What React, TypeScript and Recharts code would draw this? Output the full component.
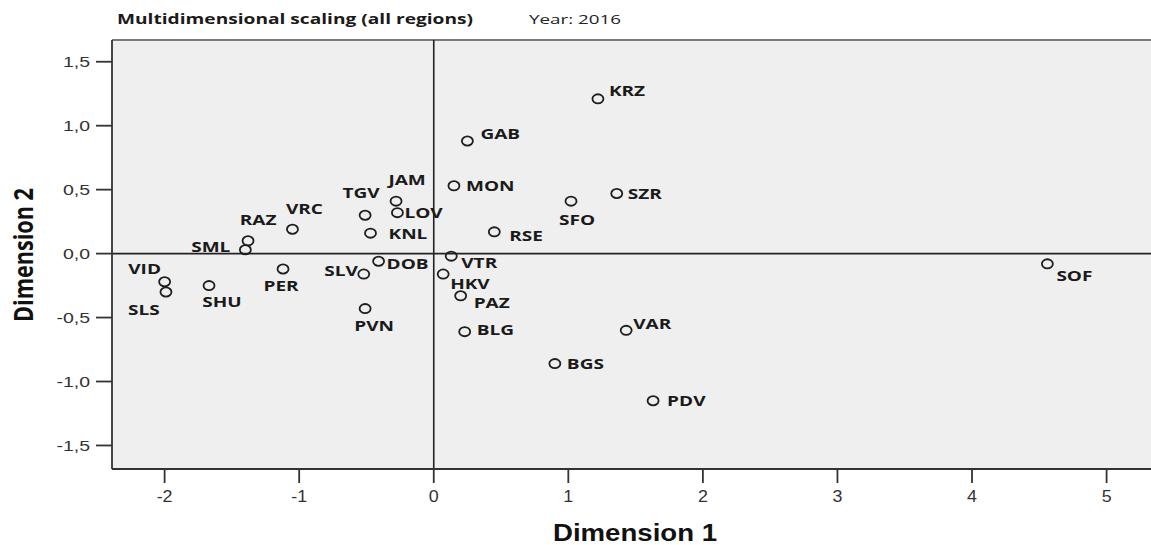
import {
  CartesianGrid,
  ReferenceLine,
  Scatter,
  ScatterChart,
  XAxis,
  YAxis,
} from "recharts";

const regions = [
  "KRZ", "GAB", "MON", "JAM", "LOV", "TGV", "KNL", "VRC", "RAZ", "SML",
  "VID", "SLS", "SHU", "PER", "SLV", "DOB", "PVN", "VTR", "HKV", "PAZ",
  "BLG", "VAR", "RSE", "SFO", "SZR", "BGS", "PDV", "SOF",
];
const dimension1 = [
  1.22, 0.25, 0.15, -0.28, -0.27, -0.51, -0.47, -1.05, -1.38, -1.4,
  -2.0, -1.99, -1.67, -1.12, -0.52, -0.41, -0.51, 0.13, 0.07, 0.2,
  0.23, 1.43, 0.45, 1.02, 1.36, 0.9, 1.63, 4.56,
];
const dimension2 = [
  1.21, 0.88, 0.53, 0.41, 0.32, 0.3, 0.16, 0.19, 0.1, 0.03,
  -0.22, -0.3, -0.25, -0.12, -0.16, -0.06, -0.43, -0.02, -0.16, -0.33,
  -0.61, -0.6, 0.17, 0.41, 0.47, -0.86, -1.15, -0.08,
];
const xTicks = [-2, -1, 0, 1, 2, 3, 4, 5];
const yTicks = [-1.5, -1, -0.5, 0, 0.5, 1, 1.5];

const X_DOMAIN: [number, number] = [-2.391, 5.33];
const Y_DOMAIN: [number, number] = [-1.684, 1.67];

// where each region's label sits relative to its marker
type Anchor = "start" | "middle" | "end";
const labelSpot: Record<string, [Anchor, number, number]> = {
  KRZ: ["start", 11, -9],
  GAB: ["start", 13, -8],
  MON: ["start", 12, -1],
  JAM: ["middle", 11, -22],
  LOV: ["start", 7, 0],
  TGV: ["middle", -4, -23],
  KNL: ["start", 18, 0],
  VRC: ["middle", 12, -21],
  RAZ: ["middle", 10, -22],
  SML: ["end", -15, -3],
  VID: ["middle", -20, -13],
  SLS: ["middle", -22, 17],
  SHU: ["middle", 13, 16],
  PER: ["middle", -2, 16],
  SLV: ["end", -6, -4],
  DOB: ["start", 8, 2],
  PVN: ["middle", 9, 17],
  VTR: ["start", 10, 6],
  HKV: ["start", 7, 9],
  PAZ: ["start", 13, 6],
  BLG: ["start", 12, -2],
  VAR: ["start", 7, -7],
  RSE: ["start", 15, 3],
  SFO: ["middle", 6, 18],
  SZR: ["start", 11, 0],
  BGS: ["start", 12, 0],
  PDV: ["start", 14, 0],
  SOF: ["start", 9, 11],
};

const points = regions.map((name, i) => ({
  name,
  x: dimension1[i],
  y: dimension2[i],
}));

const fmtComma = (v: number) => v.toFixed(1).replace(".", ",");

function RegionMarker(props: any) {
  const { cx, cy, payload } = props;
  const [anchor, dx, dy] = labelSpot[payload.name] ?? ["start", 10, 0];
  return (
    <g>
      <ellipse
        cx={cx}
        cy={cy}
        rx={5.5}
        ry={4.6}
        fill="none"
        stroke="#1e1e1e"
        strokeWidth={1.8}
      />
      <g transform={`translate(${cx + dx},${cy + dy}) scale(1.27,1)`}>
        <text
          x={0}
          y={0}
          textAnchor={anchor}
          dominantBaseline="central"
          fontFamily="'Open Sans', sans-serif"
          fontWeight={700}
          fontSize={15}
          fill="#1a1a1a"
        >
          {payload.name}
        </text>
      </g>
    </g>
  );
}

function YTick(props: any) {
  const { x, y, payload } = props;
  return (
    <g transform={`translate(${x},${y}) scale(1.3,1)`}>
      <text
        textAnchor="end"
        dominantBaseline="central"
        fontFamily="'Liberation Sans', Arial, sans-serif"
        fontSize={15}
        fill="#333"
      >
        {fmtComma(payload.value)}
      </text>
    </g>
  );
}

function XTick(props: any) {
  const { x, y, payload } = props;
  return (
    <g transform={`translate(${x},${y}) scale(1.05,1)`}>
      <text
        textAnchor="middle"
        dy="0.71em"
        fontFamily="'Liberation Sans', Arial, sans-serif"
        fontSize={17}
        fill="#333"
      >
        {payload.value}
      </text>
    </g>
  );
}

export default function App() {
  return (
    <div
      style={{
        position: "absolute",
        left: 0,
        top: 0,
        width: 1151,
        height: 545,
        background: "#fff",
        overflow: "hidden",
      }}
    >
      <ScatterChart
        width={1151}
        height={545}
        margin={{ top: 40, right: 0, bottom: 0, left: 0 }}
      >
        <CartesianGrid horizontal={false} vertical={false} fill="#efefef" />
        <XAxis
          type="number"
          dataKey="x"
          domain={X_DOMAIN}
          ticks={xTicks}
          allowDataOverflow
          height={76}
          tickSize={14}
          tickMargin={7}
          axisLine={{ stroke: "#333", strokeWidth: 1.8 }}
          tickLine={{ stroke: "#333", strokeWidth: 1.8 }}
          tick={<XTick />}
        />
        <YAxis
          type="number"
          dataKey="y"
          domain={Y_DOMAIN}
          ticks={yTicks}
          allowDataOverflow
          width={112}
          tickSize={16}
          tickMargin={6}
          axisLine={{ stroke: "#333", strokeWidth: 1.8 }}
          tickLine={{ stroke: "#333", strokeWidth: 1.8 }}
          tick={<YTick />}
        />
        <ReferenceLine y={Y_DOMAIN[1]} stroke="#7a7a7a" strokeWidth={2} />
        <ReferenceLine x={0} stroke="#222" strokeWidth={1.6} />
        <ReferenceLine y={0} stroke="#222" strokeWidth={1.6} />
        <Scatter
          data={points}
          shape={<RegionMarker />}
          isAnimationActive={false}
        />
      </ScatterChart>
      <svg
        width={1151}
        height={545}
        style={{ position: "absolute", left: 0, top: 0, pointerEvents: "none" }}
      >
        <text
          x={117}
          y={24}
          textLength={356}
          lengthAdjust="spacingAndGlyphs"
          fontFamily="'Open Sans', sans-serif"
          fontWeight={700}
          fontSize={14}
          fill="#1a1a1a"
        >
          Multidimensional scaling (all regions)
        </text>
        <text
          x={529}
          y={24}
          textLength={92}
          lengthAdjust="spacingAndGlyphs"
          fontFamily="'Open Sans', sans-serif"
          fontSize={13}
          fill="#222"
        >
          Year: 2016
        </text>
        <text
          x={553}
          y={541}
          textLength={164}
          lengthAdjust="spacingAndGlyphs"
          fontFamily="'Liberation Sans', Arial, sans-serif"
          fontWeight={700}
          fontSize={23}
          fill="#111"
        >
          Dimension 1
        </text>
        <g transform="translate(33,255) scale(1.25,1) rotate(-90)">
          <text
            x={0}
            y={0}
            textAnchor="middle"
            textLength={134}
            lengthAdjust="spacingAndGlyphs"
            fontFamily="'Open Sans', sans-serif"
            fontWeight={700}
            fontSize={22}
            fill="#111"
          >
            Dimension 2
          </text>
        </g>
      </svg>
    </div>
  );
}
